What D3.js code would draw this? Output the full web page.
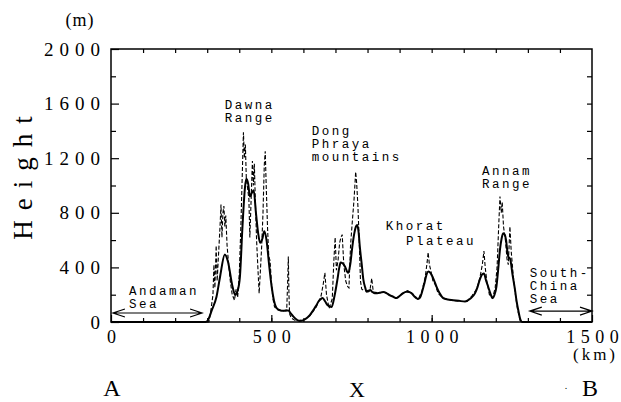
<!DOCTYPE html>
<html><head><meta charset="utf-8">
<script src="https://cdn.jsdelivr.net/npm/d3@7"></script>
<style>body{margin:0;background:#fff}svg{display:block}</style>
</head><body><svg id="c" width="621" height="402"></svg>
<script>
// ---- data ----
const meanKm = [0,295,300,315,329,340,355,365,378,387,395,402,410,418,422,428,433,440,445,452,459,465,472,478,485,493,501,508,514,522,532,545,553,560,569,580,587,598,610,620,631,640,647,655,660,668,675,688,697,706,712,716,722,730,736,740,746,752,758,764,768,772,776,782,787,793,797,803,808,815,823,840,850,860,870,880,890,900,910,922,930,937,945,952,958,965,970,978,985,990,996,1003,1010,1015,1025,1036,1050,1067,1085,1104,1120,1135,1143,1150,1158,1163,1170,1176,1183,1190,1196,1202,1208,1213,1218,1223,1228,1232,1236,1239,1245,1252,1260,1265,1270,1277,1282,1500];
const meanH  = [0,0,5,90,185,330,495,440,270,200,230,330,700,990,1050,1010,920,950,965,800,650,580,610,665,600,420,260,160,112,90,83,83,85,65,39,15,8,12,27,50,88,120,150,170,175,150,125,110,190,310,400,435,430,405,370,360,420,540,640,700,710,660,550,420,310,250,222,225,234,220,210,215,220,210,195,185,175,190,210,222,220,210,190,175,168,185,220,290,355,370,360,330,290,260,210,175,165,160,155,150,170,210,255,310,350,355,300,260,210,175,200,260,400,530,610,650,640,600,520,480,460,350,234,150,88,15,0,0];
const maxKm = [0,305,310,318,321,324,328,331,335,340,343,346,349,352,355,358,362,367,372,378,385,390,395,400,405,409,413,416,419,422,426,430,433,437,441,444,447,450,454,458,462,466,470,474,478,481,484,488,492,496,500,505,510,520,535,548,551,553,555,557,562,575,600,620,640,655,662,667,672,680,690,695,699,703,708,713,717,721,726,732,738,742,747,752,758,763,766,770,774,778,782,790,800,808,813,818,830,850,870,890,910,925,940,958,970,980,986,989,993,998,1004,1010,1020,1036,1060,1090,1110,1125,1140,1150,1158,1163,1167,1172,1180,1190,1198,1204,1209,1213,1217,1220,1224,1230,1235,1239,1244,1248,1254,1260,1268,1276,1282,1500];
const maxH  = [0,0,60,200,420,250,560,300,480,700,860,620,800,850,700,780,560,420,300,200,160,240,180,350,700,1050,1390,1200,1300,1050,980,900,620,900,1180,1000,1160,900,600,400,210,380,560,800,1150,1250,1000,700,480,450,300,170,110,90,80,90,300,480,200,60,30,10,15,45,110,190,280,360,200,100,170,450,620,380,450,580,620,640,420,300,260,250,560,720,900,1100,1020,850,600,300,240,230,230,240,320,220,215,220,200,175,210,230,210,165,230,330,440,510,420,370,300,280,210,175,160,150,150,190,240,320,420,520,400,300,200,175,250,400,700,920,800,880,700,600,460,420,700,520,350,220,90,10,0,0];
const xTickLabels = [0,500,1000,1500];
const xMinorTicks = [100,200,300,400,500,600,700,800,900,1000,1100,1200,1300,1400];
const yTickLabels = [0,400,800,1200,1600,2000];
const yMinorTicks = [200,600,1000,1400,1800];
const yAllTicks = [200,400,600,800,1000,1200,1400,1600,1800];
const labels = [
  {lines:["Dawna","Range"], km:355, h:1560},
  {lines:["Dong","Phraya","mountains"], km:626, h:1370},
  {lines:["Khorat"], km:857, h:675},
  {lines:["Plateau"], km:920, h:565},
  {lines:["Annam","Range"], km:1157, h:1075},
  {lines:["Andaman","Sea"], km:56, h:200},
  {lines:["South-","China","Sea"], km:1306, h:330}
];
const arrows = [{from:6,to:284,h:66},{from:1306,to:1500,h:80}];

// ---- chart ----
const svg = d3.select("#c");
const x = d3.scaleLinear([0,1500],[111,592]);
const y = d3.scaleLinear([0,2000],[322,49]);
const serif = "'Liberation Serif', serif";
const mono = "'Liberation Mono', monospace";

svg.append("rect").attr("x",x(0)).attr("y",y(2000))
  .attr("width",x(1500)-x(0)).attr("height",y(0)-y(2000))
  .attr("fill","none").attr("stroke","#000").attr("stroke-width",1.5);

function styleAxis(g){ g.select(".domain").remove(); g.selectAll("line").attr("stroke","#000").attr("stroke-width",1.2); }
// spaced text without trailing letter-spacing on the last character
function spaced(sel, sp){
  sel.each(function(){
    const t = d3.select(this), s = t.text();
    t.text(null);
    t.append("tspan").style("letter-spacing",sp+"px").text(s.slice(0,-1));
    t.append("tspan").style("letter-spacing","0px").text(s.slice(-1));
  });
}

svg.append("g").attr("transform",`translate(0,${y(0)})`)
  .call(d3.axisBottom(x).tickValues(xMinorTicks).tickSize(-4).tickFormat("")).call(styleAxis);
svg.append("g").attr("transform",`translate(0,${y(2000)})`)
  .call(d3.axisTop(x).tickValues(xMinorTicks).tickSize(-4).tickFormat("")).call(styleAxis);
svg.append("g").attr("transform",`translate(${x(1500)},0)`)
  .call(d3.axisRight(y).tickValues(yAllTicks).tickSize(-5).tickFormat("")).call(styleAxis);
svg.append("g").attr("transform",`translate(${x(0)},0)`)
  .call(d3.axisLeft(y).tickValues(yMinorTicks).tickSize(-5).tickFormat("")).call(styleAxis);

const fmt = d3.format("d");
const gx = svg.append("g").attr("transform",`translate(0,${y(0)})`)
  .call(d3.axisBottom(x).tickValues(xTickLabels).tickSize(-7).tickPadding(8).tickFormat(fmt)).call(styleAxis);
gx.selectAll("text").attr("font-family",serif).attr("font-size",18).attr("fill","#000").call(spaced,5.5);
const gy = svg.append("g").attr("transform",`translate(${x(0)},0)`)
  .call(d3.axisLeft(y).tickValues(yTickLabels).tickSize(-8).tickPadding(11).tickFormat(fmt)).call(styleAxis);
gy.selectAll("text").attr("font-family",serif).attr("font-size",19).attr("fill","#000").call(spaced,6);

// lines
const lineGen = d3.line().x(d=>x(d[0])).y(d=>y(d[1]));
svg.append("path").datum(maxKm.map((k,i)=>[k,maxH[i]]))
  .attr("d",lineGen).attr("fill","none").attr("stroke","#000")
  .attr("stroke-width",1.1).attr("stroke-dasharray","4,2");
svg.append("path").datum(meanKm.map((k,i)=>[k,meanH[i]]))
  .attr("d",lineGen.curve(d3.curveMonotoneX)).attr("fill","none").attr("stroke","#000")
  .attr("stroke-width",2).attr("stroke-linejoin","round");

// arrows
arrows.forEach(a=>{
  const x1=x(a.from), x2=x(a.to), yy=y(a.h);
  svg.append("path").attr("d",`M${x1},${yy}H${x2}M${x1+12},${yy-4}L${x1},${yy}L${x1+12},${yy+4}M${x2-12},${yy-4}L${x2},${yy}L${x2-12},${yy+4}`)
    .attr("fill","none").attr("stroke","#000").attr("stroke-width",1.2);
});

// annotation labels
labels.forEach(l=>{
  const t = svg.append("text").attr("x",x(l.km)).attr("y",y(l.h))
    .attr("font-family",mono).attr("font-size",12.5).style("letter-spacing","2.5px").attr("fill","#000");
  l.lines.forEach((s,i)=>t.append("tspan").attr("x",x(l.km)).attr("dy",i?12.8:0).text(s));
});

// axis titles
svg.append("text").attr("x",80).attr("y",26).attr("text-anchor","middle")
  .attr("font-family",serif).attr("font-size",18).style("letter-spacing","1px").text("(m)");
svg.append("text").attr("transform","translate(32,178) rotate(-90)").attr("text-anchor","middle")
  .attr("font-family",serif).attr("font-size",27).style("letter-spacing","10px").attr("dx","5px").text("Height");
svg.append("text").attr("x",594).attr("y",360).attr("text-anchor","middle")
  .attr("font-family",serif).attr("font-size",17).style("letter-spacing","3px").attr("dx","1.5px").text("(km)");
svg.append("text").attr("x",112).attr("y",396).attr("text-anchor","middle")
  .attr("font-family",serif).attr("font-size",24).text("A");
svg.append("text").attr("x",357).attr("y",397).attr("text-anchor","middle")
  .attr("font-family",serif).attr("font-size",22).text("X");
svg.append("text").attr("x",590).attr("y",396).attr("text-anchor","middle")
  .attr("font-family",serif).attr("font-size",24).text("B");
svg.append("text").attr("x",566).attr("y",389).attr("text-anchor","middle")
  .attr("font-family",serif).attr("font-size",10).text(".");
</script></body></html>
